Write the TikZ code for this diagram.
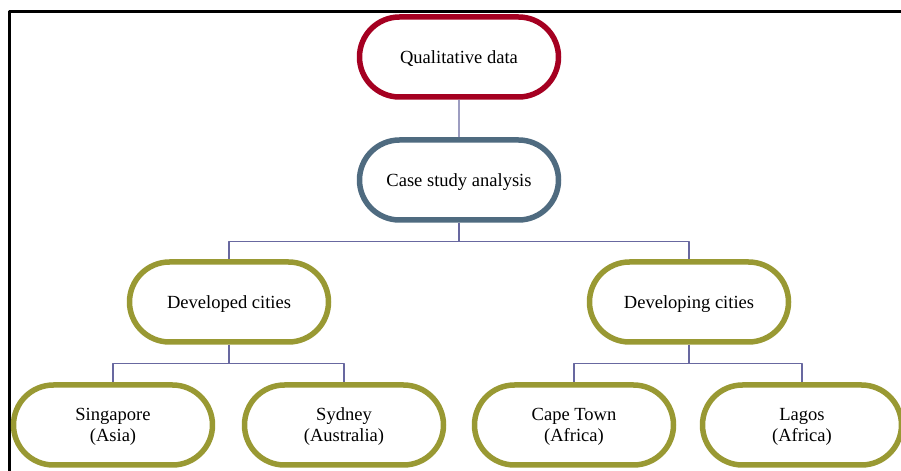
\documentclass[tikz,border=0pt]{standalone}
\usepackage{fontspec}
\setmainfont{Liberation Serif}
\usetikzlibrary{positioning,shapes.misc}

\definecolor{qualred}{RGB}{165,0,33}
\definecolor{caseblue}{RGB}{79,107,128}
\definecolor{cityolive}{RGB}{153,153,51}
\definecolor{linkviolet}{RGB}{104,104,160}

\tikzset{
  pill/.style={draw,line width=5.5bp,rounded rectangle,fill=white,
    minimum width=199bp,minimum height=80bp,inner sep=0pt,align=center,
    text depth=0pt,font=\fontsize{18.6}{21}\selectfont},
  link/.style={draw=linkviolet,line width=1.4bp},
}

\begin{document}
\begin{tikzpicture}[line join=bevel,]
\useasboundingbox (0bp,0bp) rectangle (901bp,471bp);
%%
\draw [line width=3bp] (9.5bp,0bp) -- (9.5bp,459.5bp) -- (901bp,459.5bp);
%
  \node (qualitative) at (459bp,414bp) [pill,draw=qualred] {Qualitative data};
  \node (casestudy) at (459bp,291bp) [pill,draw=caseblue] {Case study analysis};
  \node (developed) at (229bp,169bp) [pill,draw=cityolive] {Developed cities};
  \node (developing) at (689bp,169bp) [pill,draw=cityolive] {Developing cities};
  \node (singapore) at (113bp,46bp) [pill,draw=cityolive] {Singapore\\(Asia)};
  \node (sydney) at (344bp,46bp) [pill,draw=cityolive] {Sydney\\(Australia)};
  \node (capetown) at (574bp,46bp) [pill,draw=cityolive] {Cape Town\\(Africa)};
  \node (lagos) at (802bp,46bp) [pill,draw=cityolive] {Lagos\\(Africa)};
  \draw [link] (qualitative) -- (casestudy);
  \draw [link] (casestudy.south) -- ++(0bp,-19bp) -| (developed.north);
  \draw [link] (casestudy.south) -- ++(0bp,-19bp) -| (developing.north);
  \draw [link] (developed.south) -- ++(0bp,-19bp) -| (singapore.north);
  \draw [link] (developed.south) -- ++(0bp,-19bp) -| (sydney.north);
  \draw [link] (developing.south) -- ++(0bp,-19bp) -| (capetown.north);
  \draw [link] (developing.south) -- ++(0bp,-19bp) -| (lagos.north);
%
\end{tikzpicture}
\end{document}
